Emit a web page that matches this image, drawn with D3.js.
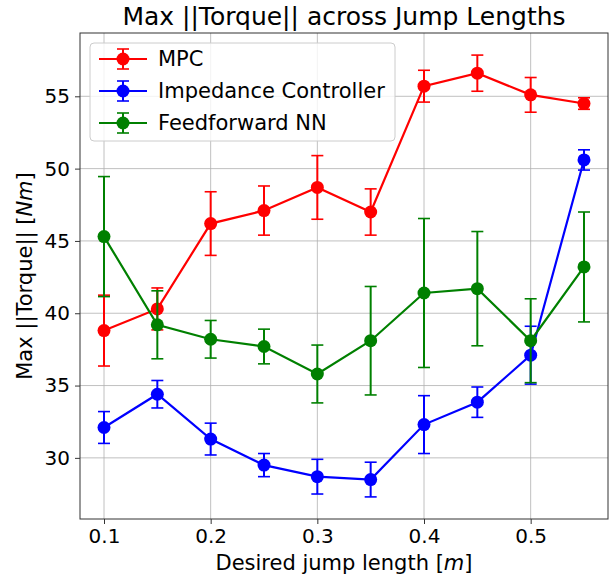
<!DOCTYPE html>
<html>
<head>
<meta charset="utf-8">
<script src="https://cdn.jsdelivr.net/npm/d3@7"></script>
<style>
  body { margin: 0; background: #fff; }
  svg { font-family: "DejaVu Sans", sans-serif; }
  .grid line { stroke: #b0b0b0; stroke-width: 0.8; }
</style>
</head>
<body>
<svg id="chart" width="616" height="576"></svg>
<script>
// jump lengths (m)
var jumpLengths = [0.1, 0.15, 0.2, 0.25, 0.3, 0.35, 0.4, 0.45, 0.5, 0.55];

// mean max torque and error (half-width) per controller
var mpcMean = [38.8, 40.3, 46.2, 47.1, 48.7, 47.0, 55.7, 56.6, 55.1, 54.5];
var mpcErr  = [2.45, 1.45, 2.2, 1.7, 2.2, 1.6, 1.1, 1.25, 1.2, 0.4];

var impMean = [32.1, 34.4, 31.3, 29.5, 28.7, 28.5, 32.3, 33.85, 37.1, 50.6];
var impErr  = [1.1, 0.95, 1.1, 0.8, 1.2, 1.2, 2.0, 1.05, 2.0, 0.7];

var ffnMean = [45.3, 39.2, 38.2, 37.7, 35.8, 38.1, 41.4, 41.7, 38.1, 43.2];
var ffnErr  = [4.15, 2.35, 1.3, 1.2, 2.0, 3.75, 5.15, 3.95, 2.9, 3.8];

var xTicks = [0.1, 0.2, 0.3, 0.4, 0.5];
var yTicks = [30, 35, 40, 45, 50, 55];

var series = [
    { name: "MPC", color: "red", mean: mpcMean, err: mpcErr },
    { name: "Impedance Controller", color: "blue", mean: impMean, err: impErr },
    { name: "Feedforward NN", color: "green", mean: ffnMean, err: ffnErr }
];

var margin = { top: 33, left: 80, right: 8, bottom: 57 };
var width = 616 - margin.left - margin.right;
var height = 576 - margin.top - margin.bottom;

var svg = d3.select("#chart");

// matplotlib style 5% padding on the data extents
var xPad = (0.55 - 0.1) * 0.05;
var x = d3.scaleLinear()
    .domain([0.1 - xPad, 0.55 + xPad])
    .range([margin.left, margin.left + width]);

var allLo = [], allHi = [];
series.forEach(function (s) {
    s.mean.forEach(function (m, i) {
        allLo.push(m - s.err[i]);
        allHi.push(m + s.err[i]);
    });
});
var yMin = d3.min(allLo), yMax = d3.max(allHi);
var yPad = (yMax - yMin) * 0.05;
var y = d3.scaleLinear()
    .domain([yMin - yPad, yMax + yPad])
    .range([margin.top + height, margin.top]);

// grid
var grid = svg.append("g").attr("class", "grid");
grid.selectAll(".gx")
    .data(xTicks)
    .enter().append("line")
    .attr("x1", d => x(d)).attr("x2", d => x(d))
    .attr("y1", margin.top).attr("y2", margin.top + height);
grid.selectAll(".gy")
    .data(yTicks)
    .enter().append("line")
    .attr("x1", margin.left).attr("x2", margin.left + width)
    .attr("y1", d => y(d)).attr("y2", d => y(d));

// axes
var xAxis = svg.append("g")
    .attr("transform", "translate(0," + (margin.top + height) + ")")
    .call(d3.axisBottom(x).tickValues(xTicks).tickFormat(d3.format(".1f")).tickSize(5).tickPadding(5));
var yAxis = svg.append("g")
    .attr("transform", "translate(" + margin.left + ",0)")
    .call(d3.axisLeft(y).tickValues(yTicks).tickFormat(d3.format("d")).tickSize(5).tickPadding(5));
[xAxis, yAxis].forEach(function (a) {
    a.select(".domain").remove();
    a.selectAll(".tick line").attr("stroke", "#000").attr("stroke-width", 0.8);
    a.selectAll(".tick text").attr("font-size", 20).attr("fill", "#000")
        .attr("font-family", "DejaVu Sans");
});

// frame
svg.append("rect")
    .attr("x", margin.left).attr("y", margin.top)
    .attr("width", width).attr("height", height)
    .attr("fill", "none").attr("stroke", "#333").attr("stroke-width", 1);

// series
var line = d3.line()
    .x((d, i) => x(jumpLengths[i]))
    .y(d => y(d));

series.forEach(function (s) {
    var g = svg.append("g");
    // error bars
    var eb = g.selectAll(".eb")
        .data(s.mean)
        .enter().append("g");
    eb.append("line")
        .attr("x1", (d, i) => x(jumpLengths[i])).attr("x2", (d, i) => x(jumpLengths[i]))
        .attr("y1", (d, i) => y(d - s.err[i])).attr("y2", (d, i) => y(d + s.err[i]))
        .attr("stroke", s.color).attr("stroke-width", 2);
    [-1, 1].forEach(function (sign) {
        eb.append("line")
            .attr("x1", (d, i) => x(jumpLengths[i]) - 6).attr("x2", (d, i) => x(jumpLengths[i]) + 6)
            .attr("y1", (d, i) => y(d + sign * s.err[i])).attr("y2", (d, i) => y(d + sign * s.err[i]))
            .attr("stroke", s.color).attr("stroke-width", 1.6);
    });
    g.append("path")
        .attr("d", line(s.mean))
        .attr("fill", "none")
        .attr("stroke", s.color)
        .attr("stroke-width", 2.2);
    g.selectAll("circle")
        .data(s.mean)
        .enter().append("circle")
        .attr("cx", (d, i) => x(jumpLengths[i]))
        .attr("cy", d => y(d))
        .attr("r", 6.5)
        .attr("fill", s.color);
});

// legend
var legend = svg.append("g").attr("transform", "translate(90,43)");
legend.append("rect")
    .attr("width", 305).attr("height", 98).attr("rx", 4)
    .attr("fill", "#fff").attr("fill-opacity", 0.8)
    .attr("stroke", "#ccc").attr("stroke-width", 1);
series.forEach(function (s, i) {
    var ly = 16 + i * 32;
    var lg = legend.append("g").attr("transform", "translate(0," + ly + ")");
    lg.append("line").attr("x1", 9).attr("x2", 57).attr("y1", 0).attr("y2", 0)
        .attr("stroke", s.color).attr("stroke-width", 2.2);
    lg.append("line").attr("x1", 33).attr("x2", 33).attr("y1", -10).attr("y2", 10)
        .attr("stroke", s.color).attr("stroke-width", 2);
    [-10, 10].forEach(function (dy) {
        lg.append("line").attr("x1", 27).attr("x2", 39).attr("y1", dy).attr("y2", dy)
            .attr("stroke", s.color).attr("stroke-width", 1.6);
    });
    lg.append("circle").attr("cx", 33).attr("cy", 0).attr("r", 6.5).attr("fill", s.color);
    lg.append("text").attr("x", 68).attr("y", 0).attr("dy", "0.35em")
        .attr("font-size", 21).attr("fill", "#000").text(s.name);
});

// title
svg.append("text")
    .attr("x", margin.left + width / 2).attr("y", 25)
    .attr("text-anchor", "middle").attr("font-size", 25).attr("fill", "#000")
    .text("Max ||Torque|| across Jump Lengths");

// axis labels
var xl = svg.append("text")
    .attr("x", margin.left + width / 2).attr("y", 570)
    .attr("text-anchor", "middle").attr("font-size", 21).attr("fill", "#000");
xl.append("tspan").text("Desired jump length [");
xl.append("tspan").attr("font-style", "italic").text("m");
xl.append("tspan").text("]");

var yl = svg.append("text")
    .attr("transform", "translate(32," + (margin.top + height / 2) + ") rotate(-90)")
    .attr("text-anchor", "middle").attr("font-size", 21).attr("fill", "#000");
yl.append("tspan").text("Max ||Torque|| [");
yl.append("tspan").attr("font-style", "italic").text("Nm");
yl.append("tspan").text("]");
</script>
</body>
</html>
